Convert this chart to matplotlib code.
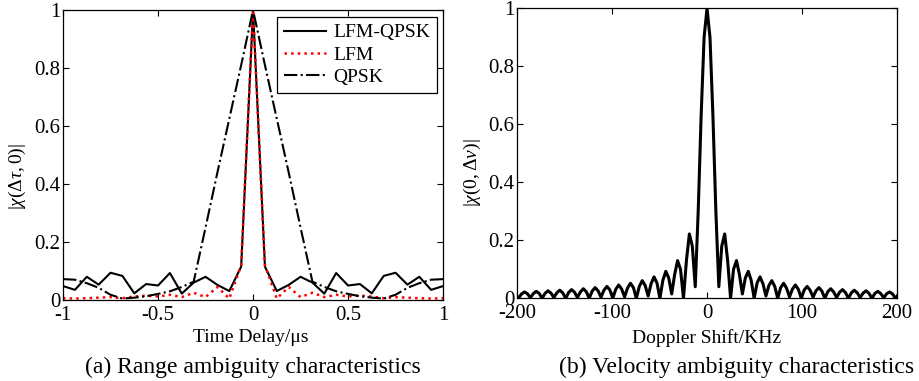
import numpy as np
import matplotlib
matplotlib.use('Agg')
import matplotlib.pyplot as plt

plt.rcParams['font.family'] = ['Liberation Serif', 'DejaVu Serif']
plt.rcParams['mathtext.fontset'] = 'custom'
plt.rcParams['mathtext.rm'] = 'Liberation Serif'
plt.rcParams['mathtext.it'] = 'Liberation Serif:italic'

# (a) дальность: задержка, мкс (шаг 1/16)
delay = np.linspace(-1, 1, 33)
lfm_qpsk = [0.048, 0.035, 0.080, 0.053, 0.094, 0.083, 0.023, 0.055, 0.050, 0.093, 0.022,
            0.060, 0.080, 0.052, 0.031, 0.115, 1.000, 0.115, 0.031, 0.052, 0.080, 0.060,
            0.022, 0.093, 0.050, 0.055, 0.023, 0.083, 0.094, 0.053, 0.080, 0.035, 0.048]
lfm = [0.006, 0.005, 0.006, 0.008, 0.010, 0.006, 0.012, 0.015, 0.012, 0.018, 0.010,
       0.025, 0.010, 0.045, 0.005, 0.120, 1.000, 0.120, 0.005, 0.045, 0.010, 0.025,
       0.010, 0.018, 0.012, 0.015, 0.012, 0.006, 0.010, 0.008, 0.006, 0.005, 0.006]
qpsk = [0.072, 0.070, 0.058, 0.042, 0.018, 0.005, 0.008, 0.013, 0.021, 0.030, 0.045,
        0.063, 0.250, 0.440, 0.625, 0.810, 1.000, 0.810, 0.625, 0.440, 0.250, 0.063,
        0.045, 0.030, 0.021, 0.013, 0.008, 0.005, 0.018, 0.042, 0.058, 0.070, 0.072]

# (b) скорость: доплеровский сдвиг, кГц (шаг 3.1)
doppler = np.arange(-65, 66) * 3.1
doppler_resp = [
    0.014, 0.000, 0.015, 0.022, 0.016, 0.002, 0.016, 0.024, 0.017, 0.000,
    0.017, 0.026, 0.018, 0.003, 0.019, 0.028, 0.019, 0.000, 0.020, 0.030,
    0.021, 0.003, 0.022, 0.033, 0.023, 0.000, 0.025, 0.037, 0.026, 0.004,
    0.028, 0.041, 0.029, 0.000, 0.031, 0.046, 0.032, 0.005, 0.035, 0.052,
    0.037, 0.000, 0.041, 0.061, 0.044, 0.008, 0.050, 0.074, 0.053, 0.000,
    0.062, 0.093, 0.070, 0.015, 0.082, 0.130, 0.100, 0.000, 0.130, 0.222,
    0.180, 0.040, 0.300, 0.630, 0.900, 1.000, 0.900, 0.630, 0.300, 0.040,
    0.180, 0.222, 0.130, 0.000, 0.100, 0.130, 0.082, 0.015, 0.070, 0.093,
    0.062, 0.000, 0.053, 0.074, 0.050, 0.008, 0.044, 0.061, 0.041, 0.000,
    0.037, 0.052, 0.035, 0.005, 0.032, 0.046, 0.031, 0.000, 0.029, 0.041,
    0.028, 0.004, 0.026, 0.037, 0.025, 0.000, 0.023, 0.033, 0.022, 0.003,
    0.021, 0.030, 0.020, 0.000, 0.019, 0.028, 0.019, 0.003, 0.018, 0.026,
    0.017, 0.000, 0.017, 0.024, 0.016, 0.002, 0.016, 0.022, 0.015, 0.000,
    0.014]

fig = plt.figure(figsize=(9.19, 3.81), dpi=100)
ax1 = fig.add_axes([0.0686, 0.2126, 0.4135, 0.7612])
ax2 = fig.add_axes([0.5626, 0.2170, 0.4135, 0.7612])

ax1.plot(delay, lfm_qpsk, color='black', linewidth=1.5, label='LFM-QPSK')
ax1.plot(delay, lfm, color='red', linestyle=':', linewidth=1.8, label='LFM')
ax1.plot(delay, qpsk, color='black', linestyle='-.', linewidth=1.5, label='QPSK')
ax1.set_xlim(-1, 1)
ax1.set_ylim(0, 1)
ax1.set_xticks([-1, -0.5, 0, 0.5, 1])
ax1.set_xticklabels(['-1', '-0.5', '0', '0.5', '1'])
leg = ax1.legend(loc='upper right', bbox_to_anchor=(0.984, 0.976), borderaxespad=0,
                 fontsize=14, fancybox=False, edgecolor='black', framealpha=1,
                 handlelength=2.15, handletextpad=0.4, labelspacing=0.25, borderpad=0.35)
leg.get_frame().set_linewidth(0.9)

ax2.plot(doppler, doppler_resp, color='black', linewidth=2.2)
ax2.set_xlim(-200, 200)
ax2.set_ylim(0, 1)
ax2.set_xticks([-200, -100, 0, 100, 200])
ax2.set_xticklabels(['-200', '-100', '0', '100', '200'])

for ax in (ax1, ax2):
    ax.set_yticks([0, 0.2, 0.4, 0.6, 0.8, 1])
    ax.set_yticklabels(['0', '0.2', '0.4', '0.6', '0.8', '1'])
    ax.tick_params(direction='in', top=True, right=True, length=4, width=0.8, labelsize=15)
    ax.tick_params(axis='x', pad=4)
    ax.tick_params(axis='y', pad=2)
    for s in ax.spines.values():
        s.set_linewidth(0.9)

fig.text(17 / 919, 1 - 177 / 381, r'$|\chi(\Delta\tau,0)|$', rotation=90, ha='center', va='center', fontsize=14)
fig.text(472 / 919, 1 - 173 / 381, r'$|\chi(0,\Delta\nu)|$', rotation=90, ha='center', va='center', fontsize=14)
fig.text(251 / 919, 1 - 338 / 381, 'Time Delay/μs', ha='center', va='center', fontsize=14)
fig.text(707 / 919, 1 - 338 / 381, 'Doppler Shift/KHz', ha='center', va='center', fontsize=14)
fig.text(253 / 919, 1 - 367 / 381, '(a) Range ambiguity characteristics', ha='center', va='center', fontsize=17)
fig.text(737 / 919, 1 - 367 / 381, '(b) Velocity ambiguity characteristics', ha='center', va='center', fontsize=17)

plt.savefig('out.png', dpi=100)
